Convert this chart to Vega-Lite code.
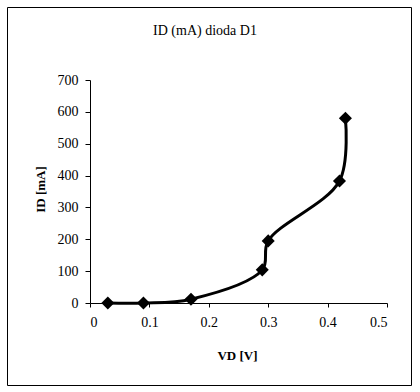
{
  "$schema": "https://vega.github.io/schema/vega-lite/v6.json",
  "width": 404,
  "height": 378,
  "padding": {"left": 7, "top": 7, "right": 9, "bottom": 7},
  "autosize": {"type": "none"},
  "background": "white",
  "title": {
    "text": "ID (mA) dioda D1",
    "font": "Liberation Serif",
    "fontSize": 14,
    "fontWeight": "normal",
    "color": "black",
    "anchor": "middle",
    "offset": -31,
    "dx": -4
  },
  "config": {
    "view": {"stroke": "black", "strokeWidth": 1},
    "axis": {
      "grid": false,
      "domainColor": "black",
      "tickColor": "black",
      "labelColor": "black",
      "titleColor": "black",
      "labelFont": "Liberation Serif",
      "labelFontSize": 14,
      "titleFont": "Liberation Serif",
      "titleFontSize": 13,
      "titleFontWeight": "bold",
      "tickSize": 5
    }
  },
  "data": {
    "values": [
      {"V": 0.03, "I": 0},
      {"V": 0.09, "I": 0},
      {"V": 0.17, "I": 12},
      {"V": 0.29, "I": 104},
      {"V": 0.30, "I": 195},
      {"V": 0.42, "I": 383},
      {"V": 0.43, "I": 580}
    ]
  },
  "encoding": {
    "x": {
      "field": "V",
      "type": "quantitative",
      "scale": {"domain": [0, 0.5], "range": [83, 380], "nice": false, "zero": false},
      "axis": {
        "orient": "bottom",
        "offset": -82,
        "values": [0, 0.1, 0.2, 0.3, 0.4, 0.5],
        "format": ".1~f",
        "tickSize": 4,
        "labelPadding": 8,
        "title": "VD [V]",
        "titleBaseline": "middle",
        "titleY": 52,
        "titleX": 230
      }
    },
    "y": {
      "field": "I",
      "type": "quantitative",
      "scale": {"domain": [0, 700], "range": [296, 73], "nice": false, "zero": false},
      "axis": {
        "orient": "left",
        "offset": -83,
        "values": [0, 100, 200, 300, 400, 500, 600, 700],
        "labelPadding": 7,
        "title": "ID [mA]",
        "titleBaseline": "middle",
        "titleAngle": -90,
        "titleX": -50,
        "titleY": 182
      }
    }
  },
  "layer": [
    {
      "mark": {"type": "line", "color": "black", "strokeWidth": 3, "interpolate": "catmull-rom"}
    },
    {
      "mark": {"type": "point", "shape": "diamond", "filled": true, "color": "black", "opacity": 1, "size": 170}
    }
  ]
}
